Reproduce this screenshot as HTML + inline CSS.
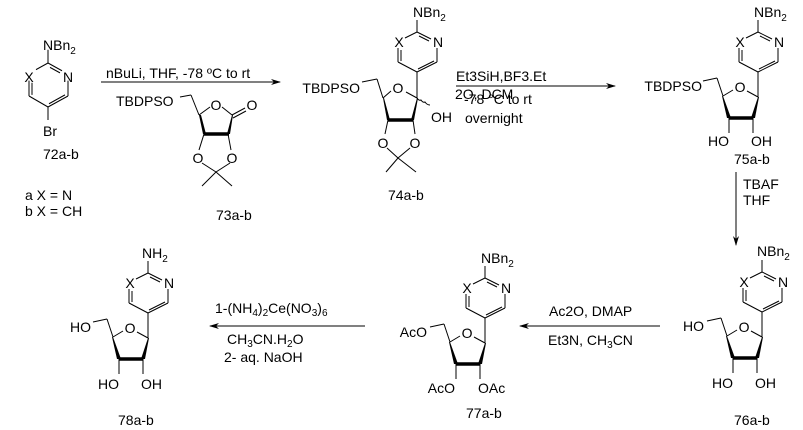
<!DOCTYPE html>
<html><head><meta charset="utf-8"><style>
html,body{margin:0;padding:0;background:#fff;}
svg{display:block;font-family:"Liberation Sans",Arial,sans-serif;font-size:14px;}
text{fill:#000}
.s{font-size:10px}
</style></head><body>
<svg width="803" height="430" viewBox="0 0 803 430" xmlns="http://www.w3.org/2000/svg">
<defs>
<marker id="ah" markerWidth="10" markerHeight="6" refX="9" refY="3" orient="auto" markerUnits="userSpaceOnUse">
<path d="M0,0 L10,3 L0,6 L3,3 z" fill="#000"/></marker>
<g id="ring">
<g stroke="#000" stroke-width="1" fill="none">
<line x1="0" y1="-52" x2="0" y2="-40"/>
<line x1="0" y1="-40" x2="14" y2="-33"/>
<line x1="2" y1="-36" x2="12" y2="-31"/>
<line x1="0" y1="-40" x2="-12" y2="-34"/>
<line x1="20" y1="-24" x2="20" y2="-10"/>
<line x1="-19" y1="-24" x2="-19" y2="-10"/>
<line x1="-16" y1="-22" x2="-16" y2="-11"/>
<line x1="20" y1="-10" x2="0" y2="0"/>
<line x1="17" y1="-11" x2="1" y2="-3"/>
<line x1="-19" y1="-10" x2="0" y2="0"/>
</g>
<text x="-18" y="-25" text-anchor="middle">X</text>
<text x="21" y="-25" text-anchor="middle">N</text>
</g>
<g id="sugar">
<g stroke="#000" fill="none" stroke-width="1">
<line x1="0" y1="0" x2="0" y2="25"/>
<line x1="-11" y1="19" x2="0" y2="25"/>
<line x1="-25" y1="18" x2="-35" y2="24"/>
<line x1="-35" y1="24" x2="-41" y2="6"/>
<line x1="-41" y1="6" x2="-55" y2="9"/>
<line x1="-29" y1="46" x2="-5" y2="46" stroke-width="3.5"/>
<line x1="-29" y1="46" x2="-29" y2="61"/>
<line x1="-5" y1="46" x2="-5" y2="61"/>
</g>
<polygon points="-35,24 -36,24 -31,46 -27,46" fill="#000"/>
<polygon points="0,25 1,25 -3,46 -7,46" fill="#000"/>
<text x="-18" y="20" text-anchor="middle">O</text>
</g>
</defs>

<!-- 72a-b -->
<g transform="translate(48,107) scale(1,1.1)"><g stroke="#000" fill="none">
<line x1="0" y1="-52" x2="0" y2="-40"/>
<line x1="0" y1="-40" x2="14" y2="-33"/>
<line x1="2" y1="-36" x2="12" y2="-31"/>
<line x1="0" y1="-40" x2="-12" y2="-34"/>
<line x1="20" y1="-24" x2="20" y2="-10"/>
<line x1="-19" y1="-24" x2="-19" y2="-10"/>
<line x1="-16" y1="-22" x2="-16" y2="-11"/>
<line x1="20" y1="-10" x2="0" y2="0"/>
<line x1="17" y1="-11" x2="1" y2="-3"/>
<line x1="-19" y1="-10" x2="0" y2="0"/></g></g>
<line x1="48" y1="107" x2="48" y2="120" stroke="#000"/>
<text x="43" y="50">NBn<tspan class="s" dy="4">2</tspan></text>
<text x="29" y="82" text-anchor="middle">X</text><text x="68" y="82" text-anchor="middle">N</text>
<text x="43" y="136">Br</text>
<text x="43" y="159">72a-b</text>
<text x="25" y="200">a  X = N</text>
<text x="25" y="216">b  X = CH</text>

<!-- arrow 1 -->
<line x1="101" y1="82" x2="280" y2="82" stroke="#000" marker-end="url(#ah)"/>
<text x="106" y="78">nBuLi, THF, -78 ºC to rt</text>

<!-- 73a-b -->
<g stroke="#000" fill="none">
<line x1="180" y1="97" x2="191" y2="95"/>
<line x1="191" y1="95" x2="199" y2="115"/>
<line x1="199" y1="115" x2="210" y2="107"/>
<line x1="222" y1="107" x2="232" y2="115"/>
<line x1="232" y1="115" x2="245" y2="108"/>
<line x1="233" y1="118" x2="246" y2="111"/>
<line x1="204" y1="134" x2="229" y2="134" stroke-width="3.5"/>
<line x1="204" y1="134" x2="199" y2="150"/>
<line x1="228" y1="134" x2="231" y2="150"/>
<line x1="202" y1="163" x2="216" y2="172"/>
<line x1="230" y1="163" x2="216" y2="172"/>
<line x1="216" y1="172" x2="202" y2="186"/>
<line x1="216" y1="172" x2="232" y2="186"/>
</g>
<polygon points="199,115 201,115 206,134 203,134" fill="#000"/>
<polygon points="232,115 233,115 230,134 227,134" fill="#000"/>
<text x="116" y="106">TBDPSO</text>
<text x="216" y="110" text-anchor="middle">O</text><text x="252" y="110" text-anchor="middle">O</text>
<text x="198" y="163" text-anchor="middle">O</text><text x="232" y="163" text-anchor="middle">O</text>
<text x="216" y="220">73a-b</text>

<!-- 74a-b -->
<use href="#ring" transform="translate(417,72)"/>
<text x="413" y="17">NBn<tspan class="s" dy="4">2</tspan></text>
<g stroke="#000" fill="none">
<line x1="417" y1="72" x2="417" y2="98"/>
<line x1="406" y1="92" x2="417" y2="98"/>
<line x1="391" y1="91" x2="383" y2="98"/>
<line x1="383" y1="98" x2="377" y2="79"/>
<line x1="377" y1="79" x2="362" y2="82"/>
<line x1="388" y1="120" x2="413" y2="120" stroke-width="3.5"/>
<path d="M417,98 q2,3 4,2 q2,3 4,2 q2,3 5,3"/>
<line x1="388" y1="120" x2="385" y2="134"/>
<line x1="413" y1="120" x2="415" y2="134"/>
<line x1="387" y1="148" x2="398" y2="158"/>
<line x1="410" y1="148" x2="398" y2="158"/>
<line x1="398" y1="158" x2="386" y2="172"/>
<line x1="398" y1="158" x2="416" y2="172"/>
</g>
<polygon points="383,98 384,98 390,120 387,120" fill="#000"/>
<polygon points="417,98 418,98 414,120 411,120" fill="#000"/>
<text x="360" y="93" text-anchor="end">TBDPSO</text>
<text x="398" y="93" text-anchor="middle">O</text>
<text x="431" y="122">OH</text>
<text x="383" y="148" text-anchor="middle">O</text><text x="415" y="148" text-anchor="middle">O</text>
<text x="388" y="200">74a-b</text>

<!-- arrow 2 -->
<line x1="456" y1="86" x2="615" y2="86" stroke="#000" marker-end="url(#ah)"/>
<text x="456" y="81">Et3SiH,BF3.Et</text>
<text x="455" y="99">2O, DCM</text>
<text x="464" y="104">-78 °C to rt</text>
<text x="465" y="123">overnight</text>

<!-- 75a-b -->
<use href="#ring" transform="translate(758,72)"/>
<use href="#sugar" transform="translate(758,72)"/>
<text x="754" y="17">NBn<tspan class="s" dy="4">2</tspan></text>
<text x="702" y="91" text-anchor="end">TBDPSO</text>
<text x="729" y="146" text-anchor="end">HO</text><text x="751" y="146">OH</text>
<text x="734" y="164">75a-b</text>

<!-- down arrow -->
<line x1="736" y1="172" x2="736" y2="245" stroke="#000" marker-end="url(#ah)"/>
<text x="743" y="189">TBAF</text>
<text x="743" y="205">THF</text>

<!-- 76a-b -->
<use href="#ring" transform="translate(762,312)"/>
<use href="#sugar" transform="translate(762,312)"/>
<text x="757" y="256">NBn<tspan class="s" dy="4">2</tspan></text>
<text x="704" y="331" text-anchor="end">HO</text>
<text x="733" y="388" text-anchor="end">HO</text><text x="755" y="388">OH</text>
<text x="734" y="425">76a-b</text>

<!-- arrow 3 -->
<line x1="660" y1="326" x2="520" y2="326" stroke="#000" marker-end="url(#ah)"/>
<text x="549" y="316">Ac2O, DMAP</text>
<text x="548" y="345">Et3N, CH<tspan class="s" dy="3">3</tspan><tspan dy="-3">CN</tspan></text>

<!-- 77a-b -->
<use href="#ring" transform="translate(485,318)"/>
<use href="#sugar" transform="translate(485,318)"/>
<text x="481" y="263">NBn<tspan class="s" dy="4">2</tspan></text>
<text x="427" y="337" text-anchor="end">AcO</text>
<text x="455" y="393" text-anchor="end">AcO</text><text x="478" y="393">OAc</text>
<text x="466" y="418">77a-b</text>

<!-- arrow 4 -->
<line x1="365" y1="326" x2="210" y2="326" stroke="#000" marker-end="url(#ah)"/>
<text x="215" y="313">1-(NH<tspan class="s" dy="3">4</tspan><tspan dy="-3">)</tspan><tspan class="s" dy="3">2</tspan><tspan dy="-3">Ce(NO</tspan><tspan class="s" dy="3">3</tspan><tspan dy="-3">)</tspan><tspan class="s" dy="3">6</tspan></text>
<text x="227" y="344">CH<tspan class="s" dy="3">3</tspan><tspan dy="-3">CN.H</tspan><tspan class="s" dy="3">2</tspan><tspan dy="-3">O</tspan></text>
<text x="224" y="362">2- aq. NaOH</text>

<!-- 78a-b -->
<use href="#ring" transform="translate(148,313)"/>
<use href="#sugar" transform="translate(148,313)"/>
<text x="142" y="258">NH<tspan class="s" dy="4">2</tspan></text>
<text x="91" y="332" text-anchor="end">HO</text>
<text x="119" y="389" text-anchor="end">HO</text><text x="141" y="389">OH</text>
<text x="118" y="425">78a-b</text>
</svg>
</body></html>
